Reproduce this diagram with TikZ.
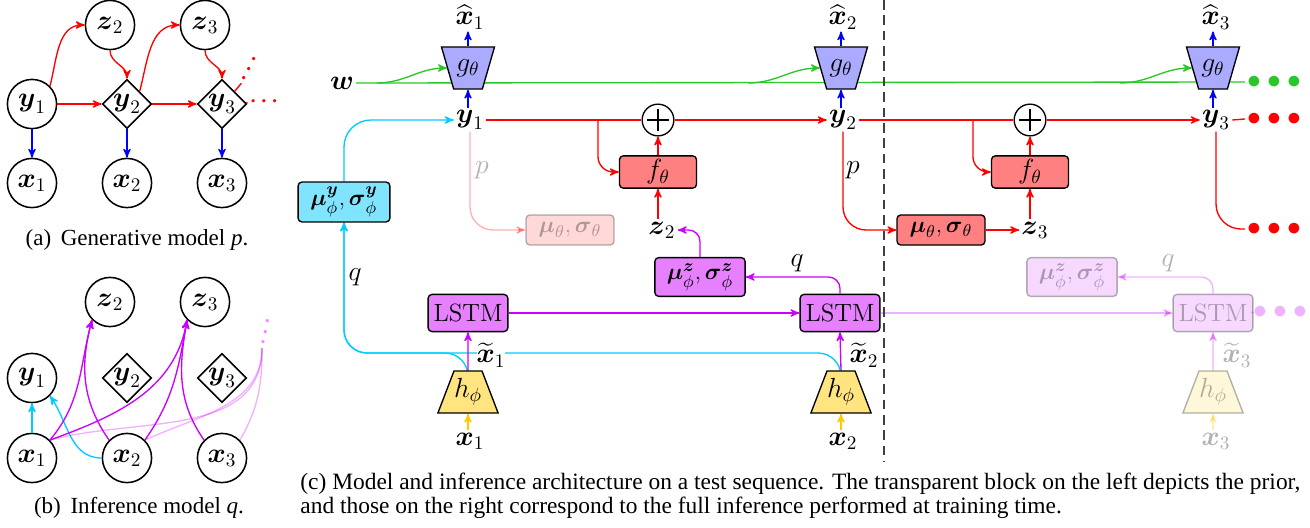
\documentclass[tikz,border=0pt]{standalone}
\usepackage{amssymb, amsmath}
\usepackage{fontspec}
\newfontfamily\capfont{Liberation Serif}
\usepackage{tikz}
\usetikzlibrary{arrows, shapes, backgrounds, calc}

\definecolor{gfill}{RGB}{170,170,255}
\definecolor{rfill}{RGB}{255,128,128}
\definecolor{lfill}{RGB}{230,128,255}
\definecolor{lline}{RGB}{204,0,255}
\definecolor{cline}{RGB}{0,204,255}
\definecolor{cfill}{RGB}{128,228,255}
\definecolor{hfill}{RGB}{255,228,128}
\definecolor{hline}{RGB}{255,200,0}
\definecolor{wline}{RGB}{40,200,40}

\newcommand{\bx}{\boldsymbol{x}}
\newcommand{\by}{\boldsymbol{y}}
\newcommand{\bz}{\boldsymbol{z}}

\tikzset{
  rv/.style={circle, draw, line width=0.8pt, minimum size=0.9cm, inner sep=0pt},
  dv/.style={diamond, aspect=1, draw, line width=0.8pt, minimum size=0.9cm, inner sep=0pt},
  txt/.style={inner sep=1pt},
  blk/.style={draw, rounded corners=2pt, line width=0.7pt, inner sep=2pt, font=\fontsize{13}{15}\selectfont},
  gnet/.style={trapezium, trapezium angle=68, trapezium stretches body, shape border rotate=180,
    draw, line width=0.7pt, fill=gfill, inner xsep=0pt, minimum width=0.97cm, minimum height=0.77cm},
  hnet/.style={trapezium, trapezium angle=68, trapezium stretches body,
    draw, line width=0.7pt, fill=hfill, inner xsep=0pt, minimum width=0.97cm, minimum height=0.77cm},
  sumnode/.style={circle, draw, fill=white, line width=0.7pt, minimum size=0.58cm, inner sep=0pt,
    path picture={\draw[line width=0.6pt]
      ([xshift=-0.2cm]path picture bounding box.center) -- ([xshift=0.2cm]path picture bounding box.center)
      ([yshift=-0.2cm]path picture bounding box.center) -- ([yshift=0.2cm]path picture bounding box.center);}},
  faded/.style={opacity=0.3},
  conn/.style={->, line width=0.7pt},
  capt/.style={inner sep=0pt, font=\capfont\fontsize{12}{12.6}\selectfont},
  smalldots/.style={inner sep=1pt, font=\fontsize{11}{13}\selectfont},
}

\begin{document}
\begin{tikzpicture}[x=0.0183cm, y=-0.0183cm, >=stealth', font=\fontsize{14}{16}\selectfont]
      \useasboundingbox (0,0) rectangle (1310,527);

      % (a) generative model
      \node [rv] (az2) at (110,25) {$\bz_2$};
      \node [rv] (az3) at (205,25) {$\bz_3$};
      \node [rv] (ay1) at (32,104) {$\by_1$};
      \node [dv] (ay2) at (127,104) {$\by_2$};
      \node [dv] (ay3) at (222,104) {$\by_3$};
      \node [rv] (ax1) at (32,183) {$\bx_1$};
      \node [rv] (ax2) at (127,183) {$\bx_2$};
      \node [rv] (ax3) at (222,183) {$\bx_3$};
      \node [smalldots, text=red] (adots) at (266,102) {$\boldsymbol{\cdots}$};
      \node [smalldots, text=red, rotate=62] (aup) at (250,67) {$\boldsymbol{\cdots}$};
      \node [capt] (capa) at (137,240) {(a)\, Generative model \textit{p}.};

      \draw [conn, red] (ay1) -- (ay2);
      \draw [conn, red] (ay2) -- (ay3);
      \draw [line width=0.7pt, red] (ay3) -- (adots);
      \draw [conn, red] (ay1.north east) to[out=75, in=180] (az2.west);
      \draw [conn, red] (az2.south) to[out=-90, in=90] (ay2.north);
      \draw [conn, red] (ay2.north east) to[out=75, in=180] (az3.west);
      \draw [conn, red] (az3.south) to[out=-90, in=90] (ay3.north);
      \draw [line width=0.7pt, red] (ay3.north east) -- (aup.west);
      \draw [conn, blue] (ay1) -- (ax1);
      \draw [conn, blue] (ay2) -- (ax2);
      \draw [conn, blue] (ay3) -- (ax3);

      % (b) inference model
      \node [rv] (bz2) at (110,302) {$\bz_2$};
      \node [rv] (bz3) at (205,302) {$\bz_3$};
      \node [rv] (by1) at (32,378) {$\by_1$};
      \node [dv] (by2) at (127,378) {$\by_2$};
      \node [dv] (by3) at (222,378) {$\by_3$};
      \node [rv] (bx1) at (32,458) {$\bx_1$};
      \node [rv] (bx2) at (127,458) {$\bx_2$};
      \node [rv] (bx3) at (222,458) {$\bx_3$};
      \coordinate (bq) at (262,348);
      \node [smalldots, text=lline, opacity=0.45, rotate=78] (bdots) at (266,330) {$\boldsymbol{\cdots}$};
      \node [capt] (capb) at (139,508) {(b)\, Inference model \textit{q}.};

      \draw [conn, cline] (bx1) -- (by1);
      \draw [conn, cline] (bx2.west) to[out=180, in=-55] (by1.south east);
      \draw [conn, lline] (bx1.north east) to[out=50, in=-105] (bz2.south west);
      \draw [conn, lline] (bx2.north west) to[out=125, in=-105] (bz2.south west);
      \draw [conn, lline] (bx1.north east) to[out=20, in=-100] (bz3.south west);
      \draw [conn, lline] (bx2.north east) to[out=55, in=-100] (bz3.south west);
      \draw [conn, lline] (bx3.north west) to[out=125, in=-100] (bz3.south west);
      \draw [line width=0.7pt, lline, faded] (bx1.north east) to[out=15, in=-90] (bq);
      \draw [line width=0.7pt, lline, faded] (bx2.north east) to[out=25, in=-90] (bq);
      \draw [line width=0.7pt, lline, faded] (bx3.north east) to[out=60, in=-90] (bq);

      % (c) architecture
      \node [txt] (w) at (342,83) {$\boldsymbol{w}$};
      \node [gnet] (g1) at (468,68) {$g_\theta$};
      \node [gnet] (g2) at (841,68) {$g_\theta$};
      \node [gnet] (g3) at (1213,68) {$g_\theta$};
      \node [txt] (xh1) at (470,17) {$\widehat{\bx}_1$};
      \node [txt] (xh2) at (843,17) {$\widehat{\bx}_2$};
      \node [txt] (xh3) at (1216,17) {$\widehat{\bx}_3$};
      \node [txt, text=wline] (gdots) at (1274,82) {$\bullet\bullet\bullet$};

      \node [txt] (y1) at (470,120) {$\by_1$};
      \node [txt] (y2) at (843,120) {$\by_2$};
      \node [txt] (y3) at (1216,120) {$\by_3$};
      \node [txt, text=red] (ydots) at (1274,119) {$\bullet\bullet\bullet$};
      \node [sumnode] (s1) at (658,120) {};
      \node [sumnode] (s2) at (1030,120) {};
      \node [blk, fill=rfill, minimum width=1.41cm, minimum height=0.57cm, font=\fontsize{14}{16}\selectfont] (f1) at (658,172) {$f_\theta$};
      \node [blk, fill=rfill, minimum width=1.41cm, minimum height=0.57cm, font=\fontsize{14}{16}\selectfont] (f2) at (1030,172) {$f_\theta$};
      \node [txt] (z2) at (662,230) {$\bz_2$};
      \node [txt] (z3) at (1035,230) {$\bz_3$};
      \node [blk, fill=rfill, faded, minimum width=1.61cm, minimum height=0.55cm] (muL) at (570,230) {$\boldsymbol{\mu}_\theta, \boldsymbol{\sigma}_\theta$};
      \node [blk, fill=rfill, minimum width=1.61cm, minimum height=0.55cm] (mut) at (941,230) {$\boldsymbol{\mu}_\theta, \boldsymbol{\sigma}_\theta$};
      \node [txt, text=red] (rdots) at (1274,229) {$\bullet\bullet\bullet$};
      \node [txt, faded] (pL) at (482,170) {$p$};
      \node [txt] (p2) at (853,170) {$p$};

      \node [blk, fill=cfill, minimum width=1.68cm, minimum height=0.73cm] (muy) at (344,202) {$\boldsymbol{\mu}_\phi^{\by}, \boldsymbol{\sigma}_\phi^{\by}$};
      \node [txt] (q1) at (355,277) {$q$};
      \node [blk, fill=lfill, minimum width=1.65cm, minimum height=0.71cm] (muz2) at (700,277) {$\boldsymbol{\mu}_\phi^{\bz}, \boldsymbol{\sigma}_\phi^{\bz}$};
      \node [blk, fill=lfill, faded, minimum width=1.65cm, minimum height=0.71cm] (muz3) at (1072,277) {$\boldsymbol{\mu}_\phi^{\bz}, \boldsymbol{\sigma}_\phi^{\bz}$};
      \node [txt] (q2) at (797,263) {$q$};
      \node [txt, faded] (q3) at (1168,263) {$q$};
      \node [blk, fill=lfill, minimum width=1.46cm, minimum height=0.68cm] (L1) at (468,313) {LSTM};
      \node [blk, fill=lfill, minimum width=1.46cm, minimum height=0.68cm] (L2) at (840,313) {LSTM};
      \node [blk, fill=lfill, faded, minimum width=1.46cm, minimum height=0.68cm] (L3) at (1213,313) {LSTM};
      \node [txt, text=lline, faded] (ldots) at (1280,312) {$\bullet\bullet\bullet$};

      \node [hnet] (h1) at (468,392) {$h_\phi$};
      \node [hnet] (h2) at (841,392) {$h_\phi$};
      \node [hnet, faded] (h3) at (1213,392) {$h_\phi$};
      \node [txt, inner sep=0pt, fill=white] (xt1) at (491,355) {$\widetilde{\bx}_1$};
      \node [txt, inner sep=0pt] (xt2) at (864,355) {$\widetilde{\bx}_2$};
      \node [txt, inner sep=0pt, faded] (xt3) at (1237,355) {$\widetilde{\bx}_3$};
      \node [txt] (x1) at (470,441) {$\bx_1$};
      \node [txt] (x2) at (843,441) {$\bx_2$};
      \node [txt, faded] (x3) at (1216,441) {$\bx_3$};

      \coordinate (gb1) at (377,83);
      \coordinate (gb2) at (748,83);
      \coordinate (gb3) at (1120,83);
      \coordinate (rb1) at (598,120);
      \coordinate (rb2) at (973,120);
      \coordinate (qc) at (344,353);
      \coordinate (sepT) at (884,0);
      \coordinate (sepB) at (884,462);

      \node [capt, anchor=west, align=left, font=\capfont\fontsize{12.2}{12.6}\selectfont] (capc) at (300,496)
        {(c) Model and inference architecture on a test sequence. The transparent block on the left depicts the prior,\\
         and those on the right correspond to the full inference performed at training time.};

      \begin{pgfonlayer}{background}
      \draw [line width=0.7pt, wline] (w.east) -- (gdots.west);
      \draw [conn, wline] (gb1) to[out=0, in=180] (g1.west);
      \draw [conn, wline] (gb2) to[out=0, in=180] (g2.west);
      \draw [conn, wline] (gb3) to[out=0, in=180] (g3.west);
      \draw [conn, blue] (y1.north -| g1.south) -- (g1.south);
      \draw [conn, blue] (y2.north -| g2.south) -- (g2.south);
      \draw [conn, blue] (y3.north -| g3.south) -- (g3.south);
      \draw [conn, blue] (g1.north) -- (xh1.south -| g1.north);
      \draw [conn, blue] (g2.north) -- (xh2.south -| g2.north);
      \draw [conn, blue] (g3.north) -- (xh3.south -| g3.north);

      \draw [line width=0.7pt, red] (y1.east) -- (s1.west);
      \draw [conn, red] (s1.east) -- (y2.west);
      \draw [line width=0.7pt, red] (y2.east) -- (s2.west);
      \draw [conn, red] (s2.east) -- (y3.west);
      \draw [line width=0.7pt, red] (y3.east) -- (ydots.west);
      \draw [conn, red, rounded corners=8pt] (rb1) |- (f1.west);
      \draw [conn, red, rounded corners=8pt] (rb2) |- (f2.west);
      \draw [conn, red] (f1.north) -- (s1.south);
      \draw [conn, red] (f2.north) -- (s2.south);
      \draw [conn, red] (z2.north -| f1.south) -- (f1.south);
      \draw [conn, red] (z3.north -| f2.south) -- (f2.south);
      \draw [conn, red, faded, rounded corners=12pt] (y1.south) |- (muL.west);
      \draw [conn, red, rounded corners=12pt] (y2.south) |- (mut.west);
      \draw [conn, red] (mut.east) -- (z3.west);
      \draw [line width=0.7pt, red, rounded corners=13pt] (y3.south) |- (rdots.west);

      \draw [conn, cline, rounded corners=14pt] (muy.north) |- (y1.west);
      \draw [conn, cline, rounded corners=12pt] (h1.north) |- (qc) [rounded corners=22pt] -- (muy.south);
      \draw [conn, cline, rounded corners=12pt] (h2.north) |- (qc) [rounded corners=22pt] -- (muy.south);

      \draw [conn, lline] (h1.north) -- (L1.south);
      \draw [conn, lline] (h2.north) -- (L2.south);
      \draw [conn, lline] (L1.east) -- (L2.west);
      \draw [conn, lline, rounded corners=6pt] (L2.north) |- (muz2.east);
      \draw [conn, lline, rounded corners=6pt] (muz2.north) |- (z2.east);
      \draw [conn, lline, faded] (L2.east) -- (L3.west);
      \draw [conn, lline, faded] (h3.north) -- (L3.south);
      \draw [conn, lline, faded, rounded corners=6pt] (L3.north) |- (muz3.east);
      \draw [line width=0.7pt, lline, faded] (L3.east) -- (ldots.west);

      \draw [conn, hline] (x1.north -| h1.south) -- (h1.south);
      \draw [conn, hline] (x2.north -| h2.south) -- (h2.south);
      \draw [conn, hline, faded] (x3.north -| h3.south) -- (h3.south);

      \draw [dash pattern=on 5pt off 3pt, line width=0.7pt, black!75] (sepT) -- (sepB);
      \end{pgfonlayer}
    \end{tikzpicture}
\end{document}
